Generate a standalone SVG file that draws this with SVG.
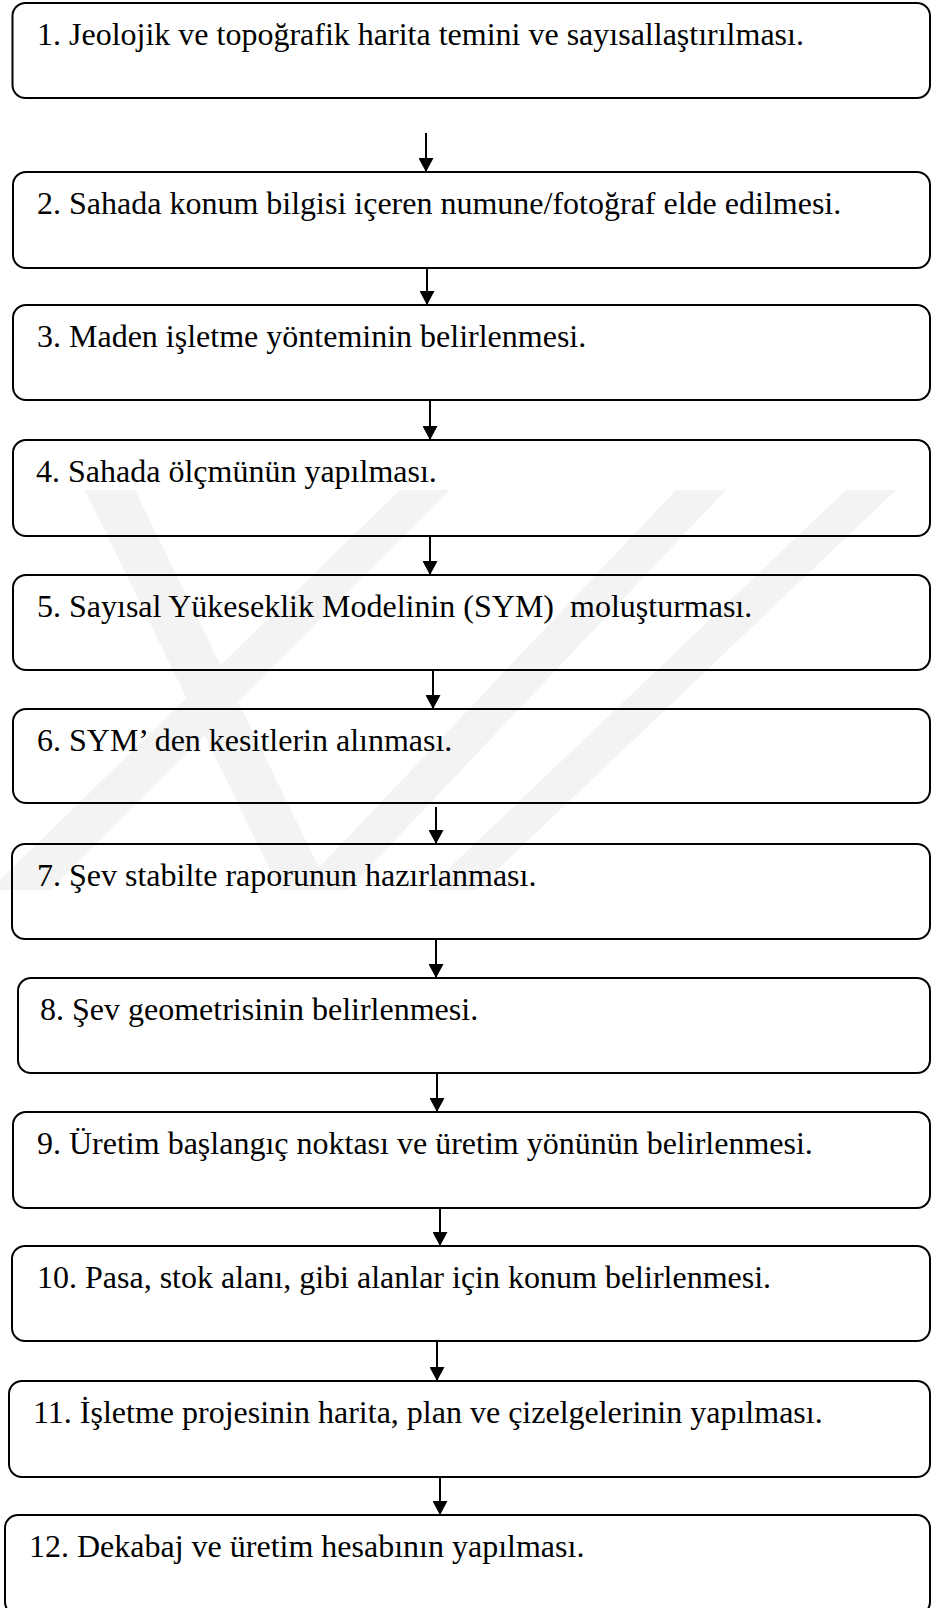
<svg xmlns="http://www.w3.org/2000/svg" width="932" height="1608" viewBox="0 0 932 1608">
<style>
.box{fill:none;stroke:#000;stroke-width:2}
.lbl{font-family:"Liberation Serif","Times New Roman",serif;font-size:32px;fill:#000;white-space:pre}
.conn{stroke:#000;stroke-width:2;fill:none}
.wm{fill:#f3f3f3}
</style>
<defs>
<marker id="ah" markerUnits="userSpaceOnUse" viewBox="0 0 14 15" markerWidth="14" markerHeight="15" refX="14" refY="7.5" orient="auto">
<path d="M0,0 L14,7.5 L0,15 z" fill="#000"/>
</marker>
</defs>
<rect width="932" height="1608" fill="#fff"/>
<g id="watermark">
<polygon class="wm" points="846,490 896,490 476,890 426,890"/>
<polygon class="wm" points="676,490 726,490 348,890 298,890"/>
<polygon class="wm" points="400,490 450,490 50,890 0,890 0,880"/>
<polygon class="wm" points="85,490 135,490 330,890 280,890"/>
</g>
<g id="connectors">
<line class="conn" x1="426" y1="133" x2="426" y2="172" marker-end="url(#ah)"/>
<line class="conn" x1="427" y1="268" x2="427" y2="305" marker-end="url(#ah)"/>
<line class="conn" x1="430" y1="400" x2="430" y2="440" marker-end="url(#ah)"/>
<line class="conn" x1="430" y1="536" x2="430" y2="575" marker-end="url(#ah)"/>
<line class="conn" x1="433" y1="670" x2="433" y2="709" marker-end="url(#ah)"/>
<line class="conn" x1="436" y1="807" x2="436" y2="844" marker-end="url(#ah)"/>
<line class="conn" x1="436" y1="939" x2="436" y2="978" marker-end="url(#ah)"/>
<line class="conn" x1="437" y1="1073" x2="437" y2="1112" marker-end="url(#ah)"/>
<line class="conn" x1="440" y1="1208" x2="440" y2="1246" marker-end="url(#ah)"/>
<line class="conn" x1="437" y1="1341" x2="437" y2="1381" marker-end="url(#ah)"/>
<line class="conn" x1="440" y1="1477" x2="440" y2="1515" marker-end="url(#ah)"/>
</g>
<g id="n1"><rect class="box" x="12.5" y="3" width="917.5" height="95" rx="13"/><text class="lbl" x="37" y="45">1. Jeolojik ve topoğrafik harita temini ve sayısallaştırılması.</text></g>
<g id="n2"><rect class="box" x="13" y="172" width="917" height="96" rx="13"/><text class="lbl" x="37" y="214">2. Sahada konum bilgisi içeren numune/fotoğraf elde edilmesi.</text></g>
<g id="n3"><rect class="box" x="13" y="305" width="917" height="95" rx="13"/><text class="lbl" x="37" y="347">3. Maden işletme yönteminin belirlenmesi.</text></g>
<g id="n4"><rect class="box" x="13" y="440" width="917" height="96" rx="13"/><text class="lbl" x="36" y="482">4. Sahada ölçmünün yapılması.</text></g>
<g id="n5"><rect class="box" x="13" y="575" width="917" height="95" rx="13"/><text class="lbl" x="37" y="617">5. Sayısal Yükeseklik Modelinin (SYM)  moluşturması.</text></g>
<g id="n6"><rect class="box" x="13" y="709" width="917" height="94" rx="13"/><text class="lbl" x="37" y="751">6. SYM’ den kesitlerin alınması.</text></g>
<g id="n7"><rect class="box" x="12" y="844" width="918" height="95" rx="13"/><text class="lbl" x="37" y="886">7. Şev stabilte raporunun hazırlanması.</text></g>
<g id="n8"><rect class="box" x="18" y="978" width="912" height="95" rx="13"/><text class="lbl" x="40" y="1020">8. Şev geometrisinin belirlenmesi.</text></g>
<g id="n9"><rect class="box" x="13" y="1112" width="917" height="96" rx="13"/><text class="lbl" x="37" y="1154">9. Üretim başlangıç noktası ve üretim yönünün belirlenmesi.</text></g>
<g id="n10"><rect class="box" x="12" y="1246" width="918" height="95" rx="13"/><text class="lbl" x="37" y="1288">10. Pasa, stok alanı, gibi alanlar için konum belirlenmesi.</text></g>
<g id="n11"><rect class="box" x="9" y="1381" width="921" height="96" rx="13"/><text class="lbl" x="33" y="1423">11. İşletme projesinin harita, plan ve çizelgelerinin yapılması.</text></g>
<g id="n12"><rect class="box" x="5" y="1515" width="925" height="100" rx="13"/><text class="lbl" x="29" y="1557">12. Dekabaj ve üretim hesabının yapılması.</text></g>
</svg>
